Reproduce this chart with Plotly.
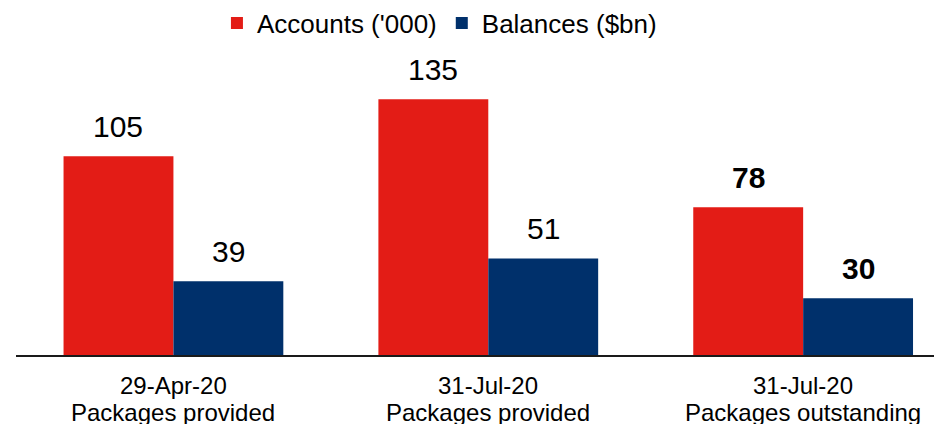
import plotly.graph_objects as go

categories = ["29-Apr-20 Packages provided", "31-Jul-20 Packages provided", "31-Jul-20 Packages outstanding"]
label_line1 = ["29-Apr-20", "31-Jul-20", "31-Jul-20"]
label_line2 = ["Packages provided", "Packages provided", "Packages outstanding"]
accounts = [105, 135, 78]
balances = [39, 51, 30]
bold_flags = [False, False, True]
series_names = ["Accounts ('000)", "Balances ($bn)"]

RED = "#E31C16"
NAVY = "#00306B"
FONT = "Liberation Sans, Arial, sans-serif"

fig = go.Figure()
fig.add_trace(go.Bar(x=categories, y=accounts, name=series_names[0], marker_color=RED, marker_line_width=0))
fig.add_trace(go.Bar(x=categories, y=balances, name=series_names[1], marker_color=NAVY, marker_line_width=0))

annotations = []
for cat, a, b, bold in zip(categories, accounts, balances, bold_flags):
    for val, shift in ((a, -55), (b, 55)):
        txt = f"<b>{val}</b>" if bold else str(val)
        annotations.append(dict(x=cat, y=val, xref="x", yref="y", text=txt, showarrow=False,
                                xshift=shift, yshift=30, yanchor="middle",
                                font=dict(family=FONT, size=30, color="#000000")))
for cat, l1, l2 in zip(categories, label_line1, label_line2):
    for txt, ys in ((l1, -30), (l2, -57)):
        annotations.append(dict(x=cat, y=0, xref="x", yref="y", text=txt, showarrow=False,
                                yshift=ys, yanchor="middle",
                                font=dict(family=FONT, size=24, color="#000000")))

fig.update_layout(
    width=934, height=416,
    margin=dict(l=8, r=0, t=62, b=69, autoexpand=False),
    paper_bgcolor="white", plot_bgcolor="white",
    barmode="group", bargap=0.302, bargroupgap=0,
    font=dict(family=FONT, color="#000000"),
    legend=dict(orientation="h", x=0.217, xanchor="left", y=1.165, yanchor="middle",
                font=dict(family=FONT, size=26, color="#000000"),
                bgcolor="rgba(0,0,0,0)"),
    annotations=annotations,
)
fig.update_xaxes(range=[-0.5, 2.441], showline=True, linecolor="#1a1a1a", linewidth=1.5,
                 ticks="", showgrid=False, showticklabels=False, automargin=False)
fig.update_yaxes(range=[0, 150.5], visible=False, showgrid=False, zeroline=False)

fig.write_html("out.html")
